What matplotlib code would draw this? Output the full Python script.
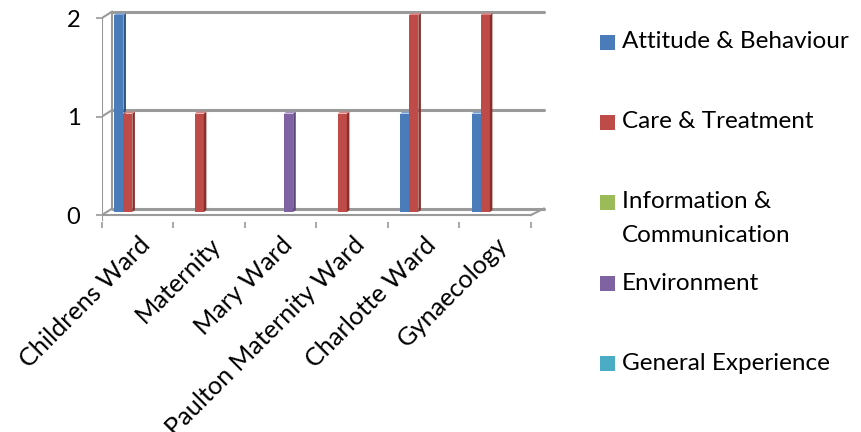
import numpy as np
import matplotlib.pyplot as plt
from matplotlib.patches import Polygon, Rectangle

plt.rcParams['font.family'] = ['Lato', 'DejaVu Sans']

wards = ["Childrens Ward", "Maternity", "Mary Ward",
         "Paulton Maternity Ward", "Charlotte Ward", "Gynaecology"]
attitude = [2, 0, 0, 0, 1, 1]
care = [1, 1, 0, 1, 2, 2]
information = [0, 0, 0, 0, 0, 0]
environment = [0, 0, 1, 0, 0, 0]
general = [0, 0, 0, 0, 0, 0]

series = [attitude, care, information, environment, general]
names = ["Attitude & Behaviour", "Care & Treatment",
         "Information &\nCommunication", "Environment", "General Experience"]
colors = ['#4A7CBA', '#BE4B48', '#9BBB59', '#7F62A1', '#4BACC6']
sides = ['#2E5584', '#8A2E2B', '#6F8A3A', '#5A4474', '#2F7D92']
tops = ['#7FA3D2', '#D98481', '#BBD38A', '#A690C2', '#86C8DB']

W, H = 862, 432
fig = plt.figure(figsize=(W / 100, H / 100), dpi=100)

# axes box in pixels; front plane: x unit = 71.5 px, y unit = 98.5 px
left, right, top, bottom = 102, 560, 5, 222
xu, yu = 71.5, 98.5
ax = fig.add_axes([left / W, (H - bottom) / H, (right - left) / W, (bottom - top) / H])
ax.set_xlim(0, (right - left) / xu)
ax.set_ylim((215 - bottom) / yu, (215 - top) / yu)
for s in ax.spines.values():
    s.set_visible(False)

# depth offset of back wall
bx, by = 0.14, 0.065
grid_c = '#9a9a9a'
n = len(wards)

# back wall grid lines and left wall
for v in [0, 1, 2]:
    ax.plot([bx, n + bx + 0.04], [v + by, v + by], color=grid_c, lw=2.2,
            solid_capstyle='round', zorder=1)
    ax.plot([0, bx], [v, v + by], color=grid_c, lw=1.5, zorder=1)
ax.plot([bx, bx], [by, 2 + by], color=grid_c, lw=1.5, zorder=1)
ax.plot([0, 0], [-0.05, 2], color=grid_c, lw=1.5, zorder=1)
# floor front edge
ax.plot([0, n], [0, 0], color=grid_c, lw=1.5, zorder=1)
ax.plot([n, n + bx + 0.04], [0, by], color=grid_c, lw=1.5, zorder=1)

# bars
bw, sd, sdy = 0.13, 0.035, 0.02
base = 0.03
for i, vals in enumerate(series):
    xs = np.arange(n) + 0.17 + i * 0.125
    hs = np.array(vals, dtype=float)
    keep = hs > 0
    ax.bar(xs[keep], hs[keep], width=bw, bottom=base, align='edge',
           color=colors[i], linewidth=0, zorder=3)
    for x0, h in zip(xs[keep], hs[keep]):
        x1 = x0 + bw
        ax.add_patch(Polygon([(x1, base), (x1 + sd, base + sdy),
                              (x1 + sd, base + h + sdy), (x1, base + h)],
                             closed=True, color=sides[i], lw=0, zorder=3))
        ax.add_patch(Polygon([(x0, base + h), (x1, base + h),
                              (x1 + sd, base + h + sdy), (x0 + sd, base + h + sdy)],
                             closed=True, color=tops[i], lw=0, zorder=3))

# ticks
ax.set_yticks([0, 1, 2])
ax.set_yticklabels(['0', '1', '2'])
ax.tick_params(axis='y', length=4.5, width=1.2, color=grid_c, pad=11, labelsize=17)
ax.set_xticks(np.arange(n) + 0.5)
ax.set_xticklabels(wards, rotation=45, ha='right', rotation_mode='anchor')
ax.tick_params(axis='x', which='major', length=0, pad=8, labelsize=18.2)
ax.set_xticks(np.arange(n + 1), minor=True)
ax.tick_params(axis='x', which='minor', length=4, width=1.2, color=grid_c)

# legend
leg_y = [42, 122, 202, 283, 363]
for name, c, y in zip(names, colors, leg_y):
    fig.add_artist(Rectangle((600 / W, (H - y - 7.5) / H), 15 / W, 15 / H,
                             transform=fig.transFigure, color=c, lw=0))
    lines = name.split('\n')
    for k, line in enumerate(lines):
        fig.text(622 / W, (H - y - 33 * k) / H, line, fontsize=17.5,
                 va='center', ha='left')

fig.savefig('out.png', dpi=100)
